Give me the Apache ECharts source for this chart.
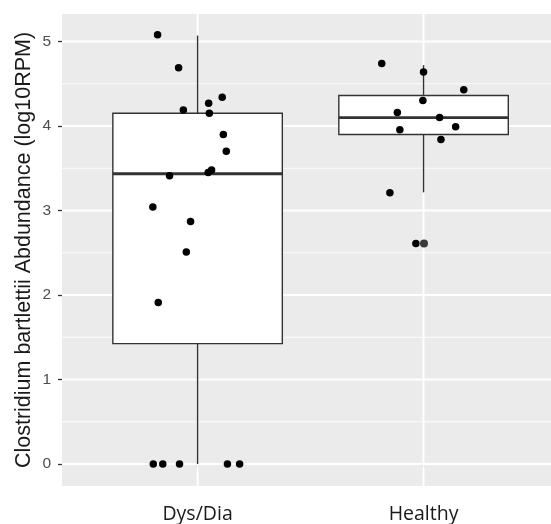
<!DOCTYPE html>
<html>
<head>
<meta charset="utf-8">
<script src="https://cdn.jsdelivr.net/npm/echarts@6/dist/echarts.min.js"></script>
<style>html,body{margin:0;padding:0;background:#fff;}#c{width:551px;height:524px;}</style>
</head>
<body>
<div id="c"></div>
<script>
// ---- data ----
var categories = ['Dys/Dia', 'Healthy'];
var categoryPos = [1, 2];
var yTicks = [0, 1, 2, 3, 4, 5];
var yMinor = [0.5, 1.5, 2.5, 3.5, 4.5];
// box stats: [x, lowerWhisker, Q1, median, Q3, upperWhisker]
var boxDys = [1, 0, 1.425, 3.435, 4.15, 5.07];
var boxHealthy = [2, 3.215, 3.90, 4.10, 4.36, 4.72];
// jittered points (x position, value)
var dysX = [0.823, 0.916, 0.937, 1.049, 1.052, 1.109, 1.114, 1.127, 0.876, 1.047, 1.062, 0.802, 0.969, 0.950, 0.826, 0.804, 0.846, 0.920, 1.132, 1.186];
var dysY = [5.08, 4.69, 4.19, 4.27, 4.15, 4.34, 3.90, 3.70, 3.41, 3.45, 3.48, 3.04, 2.87, 2.51, 1.91, 0, 0, 0, 0, 0];
var healthyX = [1.815, 2.000, 2.178, 1.997, 1.884, 2.071, 2.142, 1.895, 2.077, 1.851, 1.966];
var healthyY = [4.74, 4.64, 4.43, 4.30, 4.16, 4.10, 3.99, 3.955, 3.84, 3.21, 2.61];
var healthyGreyX = [2.002];
var healthyGreyY = [2.61];

function zip(a, b) { return a.map(function (v, i) { return [v, b[i]]; }); }

// grid line items: [orientation (0 = horizontal, 1 = vertical), value, major flag]
var gridItems = yMinor.map(function (v) { return [0, v, 0]; })
  .concat(yTicks.map(function (v) { return [0, v, 1]; }))
  .concat(categoryPos.map(function (v) { return [1, v, 1]; }));

var chart = echarts.init(document.getElementById('c'), null, {renderer: 'canvas'});
var option = {
  animation: false,
  grid: {left: 62, top: 14, right: 0, bottom: 37, show: true, backgroundColor: '#EBEBEB', borderWidth: 0},
  xAxis: {
    type: 'value', min: 0.4, max: 2.564,
    axisLine: {show: false},
    splitLine: {show: false},
    axisTick: {show: true, customValues: categoryPos, length: 4, lineStyle: {color: '#333', width: 1.3}},
    axisLabel: {
      customValues: categoryPos, margin: 18,
      formatter: function (v) { return categories[Math.round(v) - 1] || ''; },
      fontFamily: 'Open Sans', fontSize: 19.5, color: '#1a1a1a'
    }
  },
  yAxis: {
    type: 'value', min: -0.26, max: 5.325,
    axisLine: {show: false},
    splitLine: {show: false},
    axisTick: {show: true, customValues: yTicks, length: 4, lineStyle: {color: '#333', width: 1.3}},
    axisLabel: {customValues: yTicks, margin: 11, fontFamily: 'Liberation Sans', fontSize: 15.5, color: '#4D4D4D'},
    name: 'Clostridium bartlettii Abdundance (log10RPM)',
    nameLocation: 'middle', nameGap: 27, nameRotate: 90, nameMoveOverlap: false,
    nameTextStyle: {fontFamily: 'Liberation Sans', fontSize: 21.5, color: '#1a1a1a'}
  },
  series: [
    {
      type: 'custom', z: 1, silent: true,
      data: gridItems,
      renderItem: function (params, api) {
        var cs = params.coordSys;
        var o = api.value(0), v = api.value(1), major = api.value(2);
        var shape;
        if (o === 0) {
          var p = api.coord([0.4, v]);
          shape = {x1: cs.x, y1: p[1], x2: cs.x + cs.width, y2: p[1]};
        } else {
          var q = api.coord([v, 0]);
          shape = {x1: q[0], y1: cs.y, x2: q[0], y2: cs.y + cs.height};
        }
        return {type: 'line', shape: shape, style: {stroke: '#fff', lineWidth: major ? 1.9 : 0.9}};
      }
    },
    {
      type: 'custom', z: 2, silent: true,
      data: [boxDys, boxHealthy],
      renderItem: function (params, api) {
        var x = api.value(0), lo = api.value(1), q1 = api.value(2), med = api.value(3), q3 = api.value(4), hi = api.value(5);
        var hw = 0.375;
        var tl = api.coord([x - hw, q3]), br = api.coord([x + hw, q1]);
        var cHi = api.coord([x, hi]), cQ3 = api.coord([x, q3]), cQ1 = api.coord([x, q1]), cLo = api.coord([x, lo]);
        var mL = api.coord([x - hw, med]), mR = api.coord([x + hw, med]);
        var st = {stroke: '#333', lineWidth: 1.4, fill: null};
        return {
          type: 'group',
          children: [
            {type: 'line', shape: {x1: cHi[0], y1: cHi[1], x2: cQ3[0], y2: cQ3[1]}, style: st},
            {type: 'line', shape: {x1: cQ1[0], y1: cQ1[1], x2: cLo[0], y2: cLo[1]}, style: st},
            {type: 'rect', shape: {x: tl[0], y: tl[1], width: br[0] - tl[0], height: br[1] - tl[1]}, style: {fill: '#fff', stroke: '#333', lineWidth: 1.4}},
            {type: 'line', shape: {x1: mL[0], y1: mL[1], x2: mR[0], y2: mR[1]}, style: {stroke: '#333', lineWidth: 2.8}}
          ]
        };
      }
    },
    {type: 'scatter', z: 3, symbolSize: 7.5, itemStyle: {color: '#000', opacity: 1}, data: zip(dysX, dysY)},
    {type: 'scatter', z: 3, symbolSize: 7.5, itemStyle: {color: '#000', opacity: 1}, data: zip(healthyX, healthyY)},
    {type: 'scatter', z: 4, symbolSize: 8, itemStyle: {color: '#3a3a3a', opacity: 1}, data: zip(healthyGreyX, healthyGreyY)}
  ]
};
chart.setOption(option);
</script>
</body>
</html>
